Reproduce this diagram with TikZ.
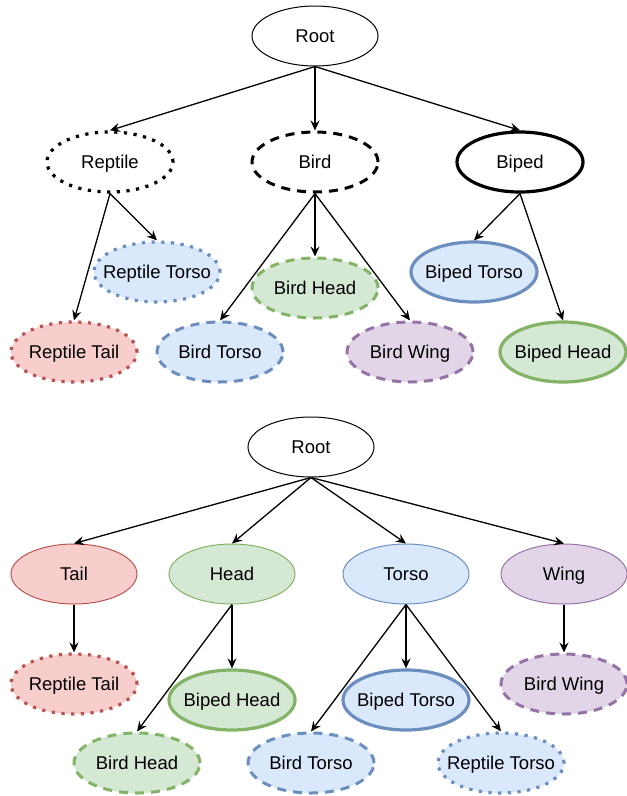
\documentclass[tikz,border=0pt]{standalone}
\usepackage{fontspec}
\setmainfont{Liberation Sans}
\usetikzlibrary{shapes.geometric,arrows.meta}
\definecolor{redF}{HTML}{F8CECC}
\definecolor{redS}{HTML}{B85450}
\definecolor{grnF}{HTML}{D5E8D4}
\definecolor{grnS}{HTML}{82B366}
\definecolor{bluF}{HTML}{DAE8FC}
\definecolor{bluS}{HTML}{6C8EBF}
\definecolor{purF}{HTML}{E1D5E7}
\definecolor{purS}{HTML}{9673A6}
\begin{document}
\begin{tikzpicture}[x=1pt,y=-1pt,
  nd/.style={ellipse, draw=black, fill=white, minimum width=126pt, minimum height=60pt, inner xsep=-40pt, inner ysep=0pt, text height=13.2pt, text depth=0pt, font=\fontsize{18.5}{21}\selectfont, line width=1pt},
  dotline/.style={line width=3.2pt, dash pattern=on 3.2pt off 6.5pt},
  dashline/.style={line width=3pt, dash pattern=on 9pt off 7pt},
  boldline/.style={line width=3.2pt},
  redc/.style={fill=redF, draw=redS},
  grnc/.style={fill=grnF, draw=grnS},
  bluc/.style={fill=bluF, draw=bluS},
  purc/.style={fill=purF, draw=purS},
  conn/.style={-{Stealth[length=10pt,width=9pt,inset=3.5pt]}, line width=1.3pt}]
\useasboundingbox (0,0) rectangle (627,796);
% ---- top tree ----
\node[nd] (root) at (315,36) {Root};
\node[nd, dotline] (rep) at (110,162) {Reptile};
\node[nd, dashline] (bird) at (315,162) {Bird};
\node[nd, boldline] (bip) at (520,162) {Biped};
\node[nd, dotline, bluc] (rtorso) at (157,272) {Reptile Torso};
\node[nd, dotline, redc] (rtail) at (74,352) {Reptile Tail};
\node[nd, dashline, grnc] (bhead) at (315,288) {Bird Head};
\node[nd, dashline, bluc] (btorso) at (220,352) {Bird Torso};
\node[nd, dashline, purc] (bwing) at (410,352) {Bird Wing};
\node[nd, boldline, bluc] (ptorso) at (474,272) {Biped Torso};
\node[nd, boldline, grnc] (phead) at (563,352) {Biped Head};
\draw[conn] (root.south) -- (rep.north);
\draw[conn] (root.south) -- (bird.north);
\draw[conn] (root.south) -- (bip.north);
\draw[conn] (rep.south) -- (rtorso.north);
\draw[conn] (rep.south) -- (rtail.north);
\draw[conn] (bird.south) -- (bhead.north);
\draw[conn] (bird.south) -- (btorso.north);
\draw[conn] (bird.south) -- (bwing.north);
\draw[conn] (bip.south) -- (ptorso.north);
\draw[conn] (bip.south) -- (phead.north);
% ---- bottom tree ----
\node[nd] (root2) at (311,447) {Root};
\node[nd, redc] (tail) at (74,574) {Tail};
\node[nd, grnc] (head) at (232,574) {Head};
\node[nd, bluc] (torso) at (406,574) {Torso};
\node[nd, purc] (wing) at (564,574) {Wing};
\node[nd, dotline, redc] (rtail2) at (74,684) {Reptile Tail};
\node[nd, boldline, grnc] (phead2) at (232,700) {Biped Head};
\node[nd, dashline, grnc] (bhead2) at (137,763) {Bird Head};
\node[nd, boldline, bluc] (ptorso2) at (406,700) {Biped Torso};
\node[nd, dashline, bluc] (btorso2) at (311,763) {Bird Torso};
\node[nd, dotline, bluc] (rtorso2) at (501,763) {Reptile Torso};
\node[nd, dashline, purc] (bwing2) at (564,684) {Bird Wing};
\draw[conn] (root2.south) -- (tail.north);
\draw[conn] (root2.south) -- (head.north);
\draw[conn] (root2.south) -- (torso.north);
\draw[conn] (root2.south) -- (wing.north);
\draw[conn] (tail.south) -- (rtail2.north);
\draw[conn] (head.south) -- (phead2.north);
\draw[conn] (head.south) -- (bhead2.north);
\draw[conn] (torso.south) -- (ptorso2.north);
\draw[conn] (torso.south) -- (btorso2.north);
\draw[conn] (torso.south) -- (rtorso2.north);
\draw[conn] (wing.south) -- (bwing2.north);
\end{tikzpicture}
\end{document}
